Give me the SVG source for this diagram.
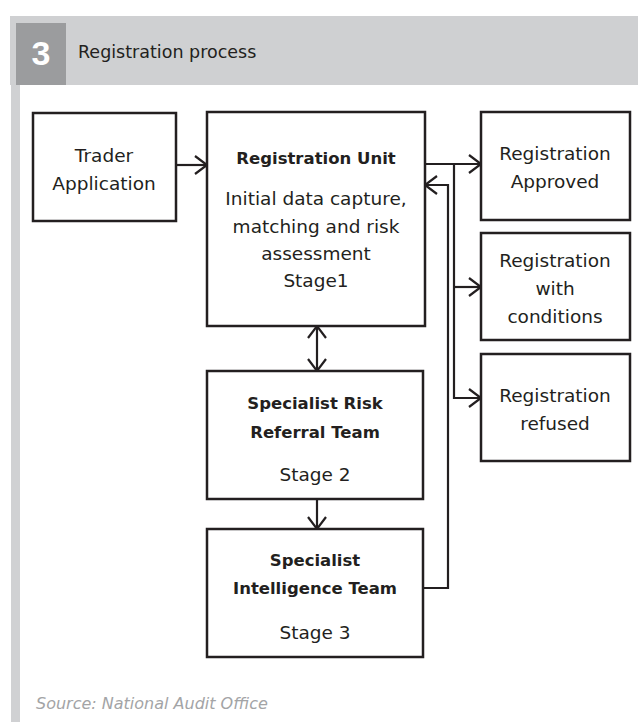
<svg xmlns="http://www.w3.org/2000/svg" width="638" height="722" viewBox="0 0 638 722">
<style>
.box{fill:#fff;stroke:#231f20;stroke-width:2.5}
.t{font-family:"DejaVu Sans","Liberation Sans",sans-serif;font-size:18.5px;fill:#231f20;text-anchor:middle}
.b{font-family:"DejaVu Sans","Liberation Sans",sans-serif;font-size:16.5px;font-weight:bold;fill:#231f20;text-anchor:middle}
.c{fill:none;stroke:#231f20;stroke-width:2.2}
</style>
<defs>
<marker id="ah" markerUnits="userSpaceOnUse" markerWidth="18" markerHeight="24" viewBox="-15 -12 18 24" refX="0" refY="0" orient="auto-start-reverse">
<path d="M-12,-9 L0,0 L-12,9" fill="none" stroke="#231f20" stroke-width="2.2"/>
</marker>
</defs>
<rect x="0" y="0" width="638" height="722" fill="#fff"/>
<g id="header">
<rect x="10" y="16" width="628" height="69" fill="#cfd0d2"/>
<rect x="16" y="23" width="50" height="62" fill="#9b9c9e"/>
<rect x="11" y="85" width="9" height="637" fill="#d0d1d3"/>
<text x="41" y="65" font-family="Liberation Sans,sans-serif" font-size="34" font-weight="bold" fill="#fff" text-anchor="middle">3</text>
<text x="78" y="58" font-family="DejaVu Sans,Liberation Sans,sans-serif" font-size="17.5" fill="#231f20">Registration process</text>
</g>
<g id="connectors">
<path class="c" d="M176,165 H207" marker-end="url(#ah)"/>
<path class="c" d="M425,164 H481" marker-end="url(#ah)"/>
<path class="c" d="M454,164 V398 H481" marker-end="url(#ah)"/>
<path class="c" d="M454,287 H481" marker-end="url(#ah)"/>
<path class="c" d="M423,588 H448 V185 H425" marker-end="url(#ah)"/>
<path class="c" d="M317,326 V371" marker-start="url(#ah)" marker-end="url(#ah)"/>
<path class="c" d="M317,499 V529" marker-end="url(#ah)"/>
</g>
<g id="trader">
<rect class="box" x="33" y="113" width="143" height="108"/>
<text class="t" x="104" y="162">Trader</text>
<text class="t" x="104" y="190">Application</text>
</g>
<g id="unit">
<rect class="box" x="207" y="112" width="218" height="214"/>
<text class="b" x="316" y="164">Registration Unit</text>
<text class="t" x="316" y="205">Initial data capture,</text>
<text class="t" x="316" y="233">matching and risk</text>
<text class="t" x="316" y="260">assessment</text>
<text class="t" x="316" y="287">Stage1</text>
</g>
<g id="approved">
<rect class="box" x="481" y="112" width="149" height="108"/>
<text class="t" x="555" y="160">Registration</text>
<text class="t" x="555" y="188">Approved</text>
</g>
<g id="conditions">
<rect class="box" x="481" y="233" width="149" height="107"/>
<text class="t" x="555" y="267">Registration</text>
<text class="t" x="555" y="295">with</text>
<text class="t" x="555" y="323">conditions</text>
</g>
<g id="refused">
<rect class="box" x="481" y="354" width="149" height="107"/>
<text class="t" x="555" y="402">Registration</text>
<text class="t" x="555" y="430">refused</text>
</g>
<g id="risk">
<rect class="box" x="207" y="371" width="216" height="128"/>
<text class="b" x="315" y="409">Specialist Risk</text>
<text class="b" x="315" y="438">Referral Team</text>
<text class="t" x="315" y="481">Stage 2</text>
</g>
<g id="intel">
<rect class="box" x="207" y="529" width="216" height="128"/>
<text class="b" x="315" y="566">Specialist</text>
<text class="b" x="315" y="594">Intelligence Team</text>
<text class="t" x="315" y="639">Stage 3</text>
</g>
<text x="36" y="709" font-family="DejaVu Sans,Liberation Sans,sans-serif" font-size="16" font-style="italic" fill="#a3a4a6">Source: National Audit Office</text>
</svg>
